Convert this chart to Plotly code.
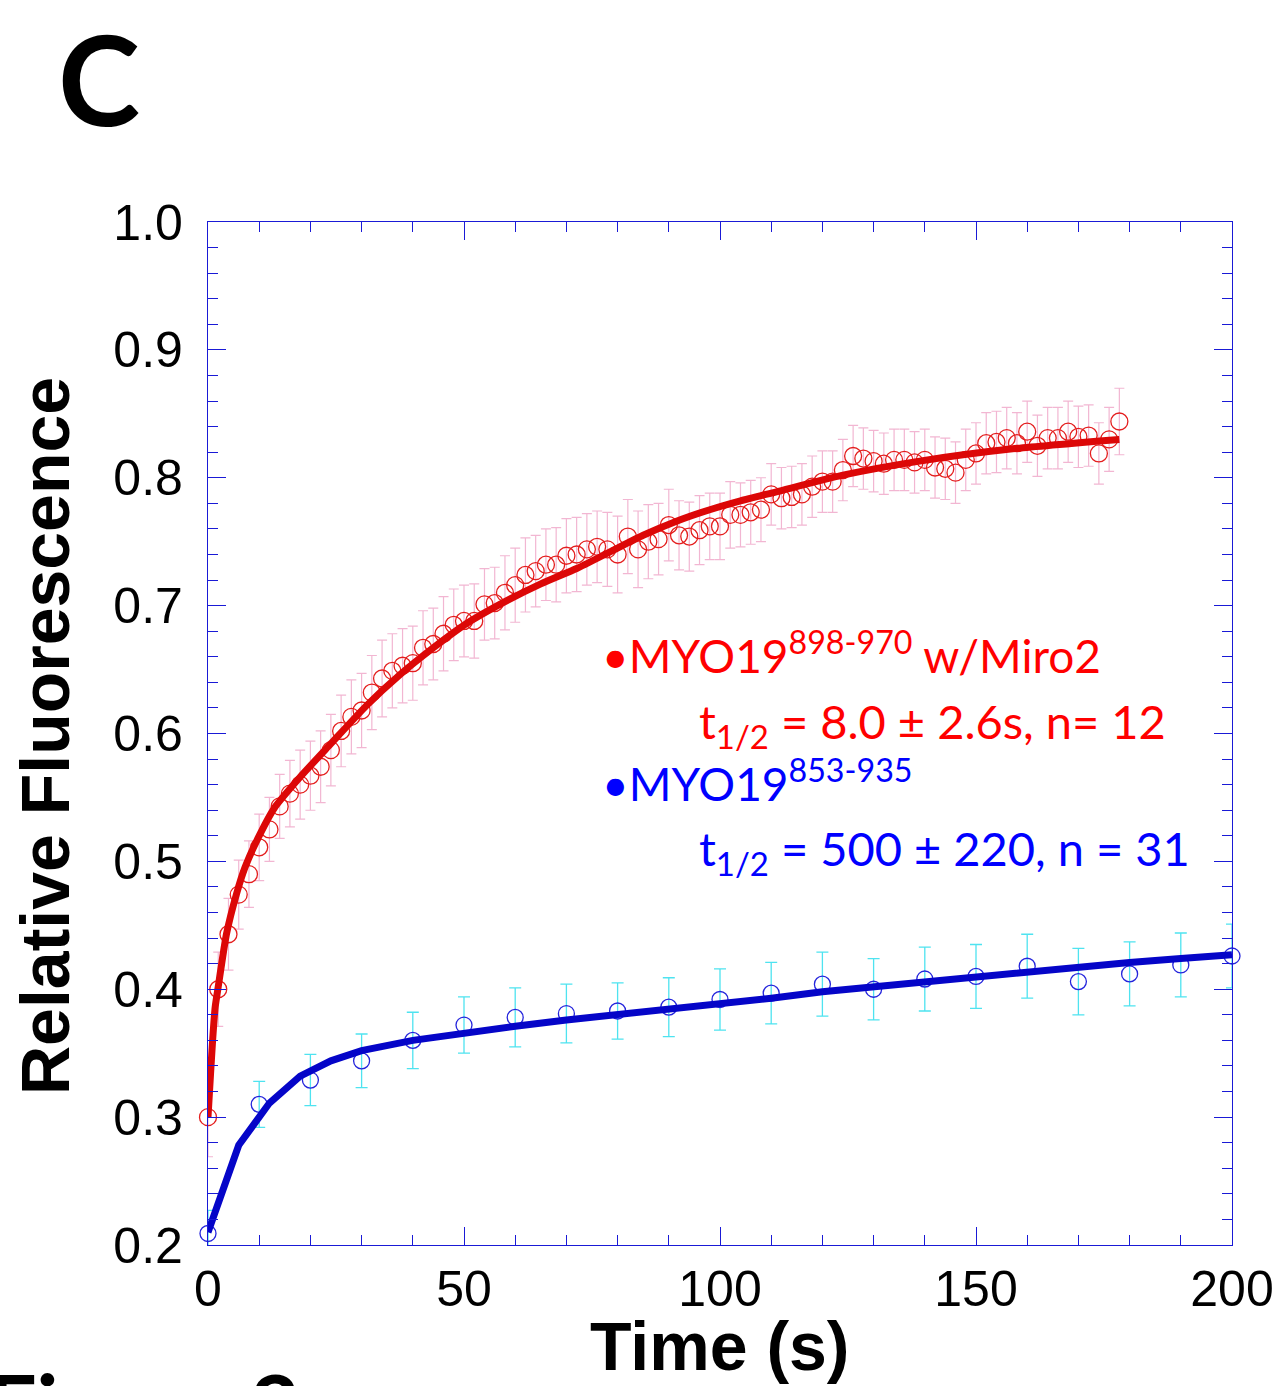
import plotly.graph_objects as go

# ---- data -------------------------------------------------------------
# MYO19 898-970 with Miro2 (FRAP recovery, 2 s frames)
red_t = list(range(0, 180, 2))
red_v = [0.300, 0.400, 0.443, 0.474, 0.490, 0.511, 0.525, 0.543, 0.553, 0.560,
         0.567, 0.574, 0.587, 0.602, 0.613, 0.618, 0.632, 0.643, 0.649, 0.653,
         0.655, 0.667, 0.670, 0.678, 0.685, 0.688, 0.688, 0.701, 0.702, 0.710,
         0.716, 0.724, 0.727, 0.732, 0.732, 0.739, 0.740, 0.744, 0.746, 0.744,
         0.740, 0.754, 0.744, 0.750, 0.752, 0.763, 0.755, 0.754, 0.759, 0.762,
         0.762, 0.771, 0.771, 0.773, 0.775, 0.787, 0.784, 0.785, 0.787, 0.793,
         0.797, 0.797, 0.806, 0.817, 0.815, 0.813, 0.811, 0.814, 0.814, 0.812,
         0.814, 0.808, 0.807, 0.804, 0.814, 0.819, 0.827, 0.828, 0.831, 0.827,
         0.836, 0.825, 0.831, 0.831, 0.836, 0.832, 0.833, 0.819, 0.830, 0.844]
red_err = [0.031, 0.029, 0.028, 0.027, 0.026, 0.026, 0.025, 0.025, 0.026, 0.027,
           0.027, 0.028, 0.028, 0.028, 0.029, 0.029, 0.029, 0.030, 0.029, 0.029,
           0.029, 0.029, 0.028, 0.029, 0.028, 0.028, 0.029, 0.028, 0.028, 0.029,
           0.029, 0.029, 0.028, 0.028, 0.029, 0.029, 0.029, 0.028, 0.028, 0.029,
           0.030, 0.029, 0.030, 0.029, 0.028, 0.028, 0.027, 0.027, 0.027, 0.026,
           0.026, 0.026, 0.025, 0.025, 0.025, 0.024, 0.024, 0.024, 0.024, 0.024,
           0.024, 0.024, 0.024, 0.024, 0.024, 0.024, 0.024, 0.024, 0.024, 0.024,
           0.024, 0.024, 0.024, 0.024, 0.024, 0.024, 0.024, 0.024, 0.024, 0.024,
           0.024, 0.024, 0.024, 0.024, 0.024, 0.024, 0.024, 0.024, 0.025, 0.026]
red_fit_t = [0, 0.5, 0.9, 1.4, 2, 3.6, 5.6, 7.2, 9.5, 13, 18, 24, 31, 37.5, 44,
             50.5, 57, 65, 72, 78.5, 85, 91.5, 98, 104, 111, 124, 139, 158, 178]
red_fit_v = [0.300, 0.334, 0.360, 0.386, 0.402, 0.443, 0.475, 0.495, 0.516, 0.542,
             0.566, 0.592, 0.622, 0.646, 0.667, 0.686, 0.701, 0.717, 0.729, 0.742,
             0.755, 0.766, 0.775, 0.782, 0.789, 0.802, 0.813, 0.823, 0.830]

# MYO19 853-935 (10 s frames)
blue_t = list(range(0, 201, 10))
blue_v = [0.209, 0.310, 0.329, 0.344, 0.360, 0.372, 0.378, 0.381, 0.383, 0.386,
          0.392, 0.397, 0.404, 0.400, 0.408, 0.410, 0.418, 0.406, 0.412, 0.419, 0.426]
blue_err = [0.018, 0.018, 0.020, 0.021, 0.022, 0.022, 0.023, 0.023, 0.022, 0.023,
            0.024, 0.024, 0.025, 0.024, 0.025, 0.025, 0.025, 0.026, 0.025, 0.025, 0.025]
blue_fit_t = [0, 6, 12, 18, 24, 30, 40, 50, 60, 70, 80, 90, 100, 110, 120, 130,
              140, 150, 160, 170, 180, 190, 200]
blue_fit_v = [0.210, 0.278, 0.311, 0.332, 0.344, 0.352, 0.360, 0.366, 0.371, 0.376,
              0.380, 0.385, 0.389, 0.393, 0.398, 0.402, 0.406, 0.410, 0.414, 0.417,
              0.421, 0.424, 0.427]

# ---- styling ----------------------------------------------------------
W, H = 1283, 1386
L, R, T, B = 208, 51, 222, 141
AXIS_BLUE = "#1a1ad6"
RED_MARK = "#e41e1e"
RED_LINE = "#dc0707"
PINK = "#f2b6d2"
BLUE_MARK = "#2424dc"
BLUE_LINE = "#0505c8"
CYAN = "#4ee3f0"
TICK_FONT = dict(family="Liberation Sans, Arial, sans-serif", size=50, color="black")


def px_x(px):
    return (px - L) / (W - L - R)


def px_y(py):
    return (H - B - py) / (H - T - B)


fig = go.Figure()

fig.add_trace(go.Scatter(
    x=red_t, y=red_v, mode="markers",
    marker=dict(symbol="circle-open", size=17, color=RED_MARK, line=dict(width=1.3)),
    error_y=dict(type="data", array=red_err, color=PINK, thickness=1.2, width=5),
    cliponaxis=False, showlegend=False))
fig.add_trace(go.Scatter(
    x=blue_t, y=blue_v, mode="markers",
    marker=dict(symbol="circle-open", size=16, color=BLUE_MARK, line=dict(width=1.3)),
    error_y=dict(type="data", array=blue_err, color=CYAN, thickness=1.3, width=6),
    cliponaxis=False, showlegend=False))
fig.add_trace(go.Scatter(
    x=red_fit_t, y=red_fit_v, mode="lines",
    line=dict(color=RED_LINE, width=7, shape="spline", smoothing=0.6),
    cliponaxis=False, showlegend=False))
fig.add_trace(go.Scatter(
    x=blue_fit_t, y=blue_fit_v, mode="lines",
    line=dict(color=BLUE_LINE, width=7),
    cliponaxis=False, showlegend=False))

axis_common = dict(
    showline=True, linecolor=AXIS_BLUE, linewidth=1.3, mirror="ticks",
    ticks="inside", tickcolor=AXIS_BLUE, tickwidth=1.3, ticklen=18,
    showgrid=False, zeroline=False, tickfont=TICK_FONT, automargin=False,
)

fig.update_xaxes(
    range=[0, 200], tick0=0, dtick=50, ticklabelstandoff=0,
    minor=dict(ticks="inside", dtick=10, ticklen=10, tickcolor=AXIS_BLUE, tickwidth=1.3,
               showgrid=False),
    **axis_common)
fig.update_yaxes(
    range=[0.2, 1.0], tick0=0.2, dtick=0.1, tickformat=".1f", ticklabelstandoff=14,
    minor=dict(ticks="inside", dtick=0.02, ticklen=10, tickcolor=AXIS_BLUE, tickwidth=1.3,
               showgrid=False),
    **axis_common)

annotations = [
    # panel letter
    dict(text="<b>C</b>", x=px_x(99), y=px_y(78), font=dict(family="Lato, sans-serif", size=124, color="black")),
    # axis titles
    dict(text="<b>Relative Fluorescence</b>", x=px_x(45), y=px_y(736), textangle=-90,
         font=dict(family="Liberation Sans, Arial, sans-serif", size=68, color="black")),
    dict(text="<b>Time (s)</b>", x=px_x(719), y=px_y(1346),
         font=dict(family="Liberation Sans, Arial, sans-serif", size=68, color="black")),
    # caption cut by the page edge
    dict(text="<b>Figure 2</b>", x=px_x(-14), y=px_y(1350), xanchor="left", yanchor="top",
         font=dict(family="Lato, sans-serif", size=86, color="black")),
    # series labels
    dict(text="•MYO19<sup>898-970</sup> w/Miro2", x=px_x(600), y=px_y(652), xanchor="left",
         font=dict(family="Lato, sans-serif", size=46, color="#ff0000")),
    dict(text="t<sub>1/2</sub> = 8.0 ± 2.6s, n= 12", x=px_x(697), y=px_y(724), xanchor="left",
         font=dict(family="Lato, sans-serif", size=47, color="#ff0000")),
    dict(text="•MYO19<sup>853-935</sup>", x=px_x(600), y=px_y(780), xanchor="left",
         font=dict(family="Lato, sans-serif", size=46, color="#0000ff")),
    dict(text="t<sub>1/2</sub> = 500 ± 220, n = 31", x=px_x(697), y=px_y(851), xanchor="left",
         font=dict(family="Lato, sans-serif", size=47, color="#0000ff")),
]
for a in annotations:
    a.setdefault("xref", "paper")
    a.setdefault("yref", "paper")
    a.setdefault("showarrow", False)
    a.setdefault("xanchor", "center")
    a.setdefault("yanchor", "middle")

fig.update_layout(
    width=W, height=H,
    margin=dict(l=L, r=R, t=T, b=B, pad=0, autoexpand=False),
    paper_bgcolor="white", plot_bgcolor="white",
    annotations=annotations,
)

fig.write_html("out.html")
